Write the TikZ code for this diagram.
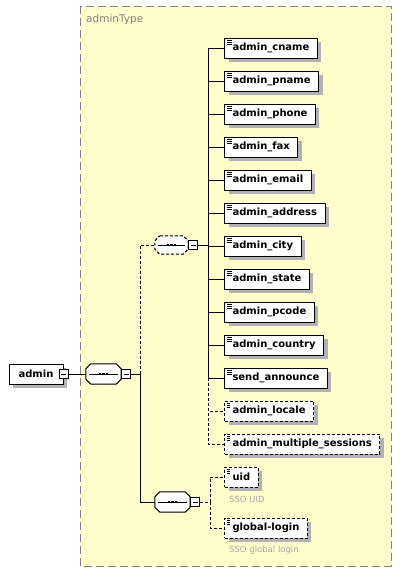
\documentclass[tikz,border=0pt]{standalone}
\usepackage{fontspec}
\newfontfamily\xsdfont{DejaVu Sans}
\usepackage{tikz}
\usetikzlibrary{shadows,positioning}
\definecolor{typebg}{RGB}{255,255,204}
\definecolor{typeline}{RGB}{128,128,128}
\definecolor{docgray}{RGB}{165,165,165}
\definecolor{shadowgray}{RGB}{178,178,178}
\tikzstyle{line} = [draw, line width=1pt]
\tikzstyle{optline} = [draw, line width=1pt, dash pattern=on 3pt off 2pt]
\tikzstyle{root} = [rectangle, draw, fill=white, line width=1pt, minimum height=20pt, inner xsep=8pt, inner ysep=0pt, font=\xsdfont\bfseries\fontsize{10}{12}\selectfont, drop shadow={shadow xshift=4pt, shadow yshift=-4pt, fill=shadowgray, opacity=1}]
\tikzstyle{elem} = [root, anchor=west, path picture={\draw[black, line width=0.8pt] ([shift={(2pt,-2.5pt)}]path picture bounding box.north west) -- ++(5pt,0pt) ++(-5pt,-2pt) -- ++(5pt,0pt) ++(-5pt,-2pt) -- ++(5pt,0pt);}]
\tikzstyle{optelem} = [elem, dash pattern=on 3pt off 2pt]
\tikzstyle{seq} = [rectangle, minimum width=35pt, minimum height=20pt, inner sep=0pt]
\tikzstyle{minus} = [rectangle, draw, fill=white, line width=1pt, minimum size=9pt, inner sep=0pt, path picture={\draw[black, line width=1pt] ([xshift=2pt]path picture bounding box.west) -- ([xshift=-2pt]path picture bounding box.east);}]
\tikzstyle{doc} = [anchor=west, inner sep=0pt, text=docgray, font=\xsdfont\fontsize{8.5}{10}\selectfont]
% octagon of a sequence compositor: shadow, outline, line with three dots
\newcommand{\octpath}[1]{([xshift=5pt]#1.north west) -- ([xshift=-5pt]#1.north east) -- ([yshift=-5pt]#1.north east) -- ([yshift=5pt]#1.south east) -- ([xshift=-5pt]#1.south east) -- ([xshift=5pt]#1.south west) -- ([yshift=5pt]#1.south west) -- ([yshift=-5pt]#1.north west) -- cycle}
\newcommand{\drawseq}[2][]{%
  \fill [shadowgray, shift={(4pt,-4pt)}] \octpath{#2};
  \draw [fill=white, line width=1pt, #1] \octpath{#2};
  \draw [line width=1pt] ([xshift=3pt]#2.west) -- ([xshift=-3pt]#2.east);
  \fill ([xshift=-3.6pt]#2.center) +(-1.3pt,-1.3pt) rectangle +(1.3pt,1.3pt);
  \fill (#2.center) +(-1.3pt,-1.3pt) rectangle +(1.3pt,1.3pt);
  \fill ([xshift=3.6pt]#2.center) +(-1.3pt,-1.3pt) rectangle +(1.3pt,1.3pt);
}
\begin{document}
\begin{tikzpicture}[x=1pt, y=-1pt]
\fill [white] (0,0) rectangle (411,576);
\useasboundingbox (0,0) rectangle (411,576);

\draw [fill=typebg, draw=typeline, line width=1pt, dash pattern=on 8pt off 4pt] (80,6) rectangle (391,566);
\node [anchor=west, inner sep=0pt, text=typeline, font=\xsdfont\fontsize{10.5}{12}\selectfont] (typename) at (86,20) {adminType};

\node [root, minimum width=54pt] (admin) at (36,374) {admin};
\node [minus] (admin_m) at (admin.east) {};

\node [seq] (seq) at (103.5,374) {};
\drawseq{seq}
\node [minus, anchor=west] (seq_m) at (seq.east) {};
\path [line] (admin_m.east) to (seq.west);
\coordinate [right=9pt of seq_m.east] (seq_j);
\path [line] (seq_m.east) to (seq_j);

\node [seq, minimum width=33pt, minimum height=18pt] (seqA) at (171.5,245) {};
\path [optline] (seq_j) |- (seqA.west);
\drawseq[dash pattern=on 3pt off 2pt]{seqA}
\node [minus, anchor=west] (seqA_m) at (seqA.east) {};
\coordinate [right=10pt of seqA_m.east] (seqA_j);
\path [line] (seqA_m.east) to (seqA_j);

\node [seq] (seqB) at (172.5,502) {};
\path [line] (seq_j) |- (seqB.west);
\drawseq{seqB}
\node [minus, anchor=west] (seqB_m) at (seqB.east) {};
\coordinate [right=10pt of seqB_m.east] (seqB_j);
\path [optline] (seqB_m.east) to (seqB_j);

% first sequence
\node [elem] (cname) at (224,48) {admin\_cname};
\path [line] (seqA_j) |- (cname.west);
\node [elem, below=12pt of cname.south west, anchor=north west] (pname) {admin\_pname};
\path [line] (seqA_j) |- (pname.west);
\node [elem, below=12pt of pname.south west, anchor=north west] (phone) {admin\_phone};
\path [line] (seqA_j) |- (phone.west);
\node [elem, below=12pt of phone.south west, anchor=north west] (fax) {admin\_fax};
\path [line] (seqA_j) |- (fax.west);
\node [elem, below=12pt of fax.south west, anchor=north west] (email) {admin\_email};
\path [line] (seqA_j) |- (email.west);
\node [elem, below=12pt of email.south west, anchor=north west] (address) {admin\_address};
\path [line] (seqA_j) |- (address.west);
\node [elem, below=12pt of address.south west, anchor=north west] (city) {admin\_city};
\path [line] (seqA_j) |- (city.west);
\node [elem, below=12pt of city.south west, anchor=north west] (state) {admin\_state};
\path [line] (seqA_j) |- (state.west);
\node [elem, below=12pt of state.south west, anchor=north west] (pcode) {admin\_pcode};
\path [line] (seqA_j) |- (pcode.west);
\node [elem, below=12pt of pcode.south west, anchor=north west] (country) {admin\_country};
\path [line] (seqA_j) |- (country.west);
\node [elem, below=12pt of country.south west, anchor=north west] (announce) {send\_announce};
\path [line] (seqA_j) |- (announce.west);
\node [optelem, below=12pt of announce.south west, anchor=north west] (locale) {admin\_locale};
\path [optline] (announce.west -| seqA_j) |- (locale.west);
\node [optelem, below=12pt of locale.south west, anchor=north west] (sessions) {admin\_multiple\_sessions};
\path [optline] (announce.west -| seqA_j) |- (sessions.west);

% second sequence
\node [optelem, below=12pt of sessions.south west, anchor=north west] (uid) {uid};
\path [optline] (seqB_j) |- (uid.west);
\node [doc] (uid_doc) at ([shift={(5pt,-11.5pt)}]uid.south west) {SSO UID};
\node [optelem, below=30pt of uid.south west, anchor=north west] (login) {global-login};
\path [optline] (seqB_j) |- (login.west);
\node [doc] (login_doc) at ([shift={(5pt,-11.5pt)}]login.south west) {SSO global login};
\end{tikzpicture}
\end{document}
